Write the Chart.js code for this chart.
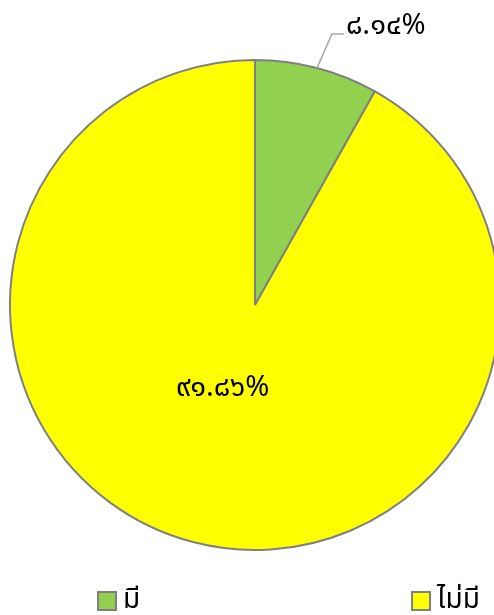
<!DOCTYPE html>
<html>
<head>
<meta charset="utf-8">
<script src="https://cdn.jsdelivr.net/npm/chart.js@4"></script>
<style>
  html, body { margin: 0; padding: 0; background: #fff; overflow: hidden; }
  #wrap { position: relative; width: 510px; height: 615px; }
</style>
</head>
<body>
<div id="wrap"><canvas id="c"></canvas></div>
<script>
const categories = ['มี', 'ไม่มี'];
const values = [8.14, 91.86];
const valueLabels = ['๘.๑๔%', '๙๑.๘๖%'];
const colors = ['#92d050', '#ffff00'];

const FONT = '"Noto Sans Thai", "Noto Sans", "DejaVu Sans", sans-serif';

const labelPlugin = {
  id: 'sliceLabels',
  afterDatasetsDraw(chart) {
    const ctx = chart.ctx;
    const meta = chart.getDatasetMeta(0);
    ctx.save();
    ctx.font = '29px ' + FONT;
    ctx.fillStyle = '#000';
    ctx.textBaseline = 'middle';
    meta.data.forEach((arc, i) => {
      const mid = (arc.startAngle + arc.endAngle) / 2;
      const r = arc.outerRadius;
      if (i === 0) {
        const px = arc.x + Math.cos(mid) * r;
        const py = arc.y + Math.sin(mid) * r;
        const ex = px + 15, ey = py - 34;
        ctx.strokeStyle = '#a6a6a6';
        ctx.lineWidth = 1.5;
        ctx.beginPath();
        ctx.moveTo(px, py);
        ctx.lineTo(ex, ey);
        ctx.lineTo(ex + 12, ey);
        ctx.stroke();
        ctx.textAlign = 'left';
        ctx.fillText(valueLabels[i], ex + 14, ey - 6);
      } else {
        const d = r * 0.36;
        const x = arc.x + Math.cos(mid) * d - 10;
        const y = arc.y + Math.sin(mid) * d;
        ctx.textAlign = 'center';
        ctx.fillText(valueLabels[i], x, y);
      }
    });
    ctx.restore();
  }
};

const legendPlugin = {
  id: 'bottomLegend',
  afterDraw(chart) {
    const ctx = chart.ctx;
    const xs = [98, 412];
    const y = 592;
    ctx.save();
    ctx.font = '28px ' + FONT;
    ctx.textBaseline = 'middle';
    ctx.textAlign = 'left';
    categories.forEach((c, i) => {
      ctx.fillStyle = colors[i];
      ctx.fillRect(xs[i], y, 18, 18);
      ctx.strokeStyle = '#808080';
      ctx.lineWidth = 2;
      ctx.strokeRect(xs[i], y, 18, 18);
      ctx.fillStyle = '#000';
      ctx.fillText(c, xs[i] + 25, y + 10);
    });
    ctx.restore();
  }
};

new Chart(document.getElementById('c'), {
  type: 'pie',
  data: {
    labels: categories,
    datasets: [{
      data: values,
      backgroundColor: colors,
      borderColor: '#808080',
      borderWidth: 2,
      hoverOffset: 0
    }]
  },
  options: {
    responsive: true,
    maintainAspectRatio: false,
    animation: false,
    layout: { padding: { top: 59, bottom: 64, left: 0, right: 0 } },
    plugins: {
      legend: { display: false },
      tooltip: { enabled: false }
    }
  },
  plugins: [labelPlugin, legendPlugin]
});
</script>
</body>
</html>
